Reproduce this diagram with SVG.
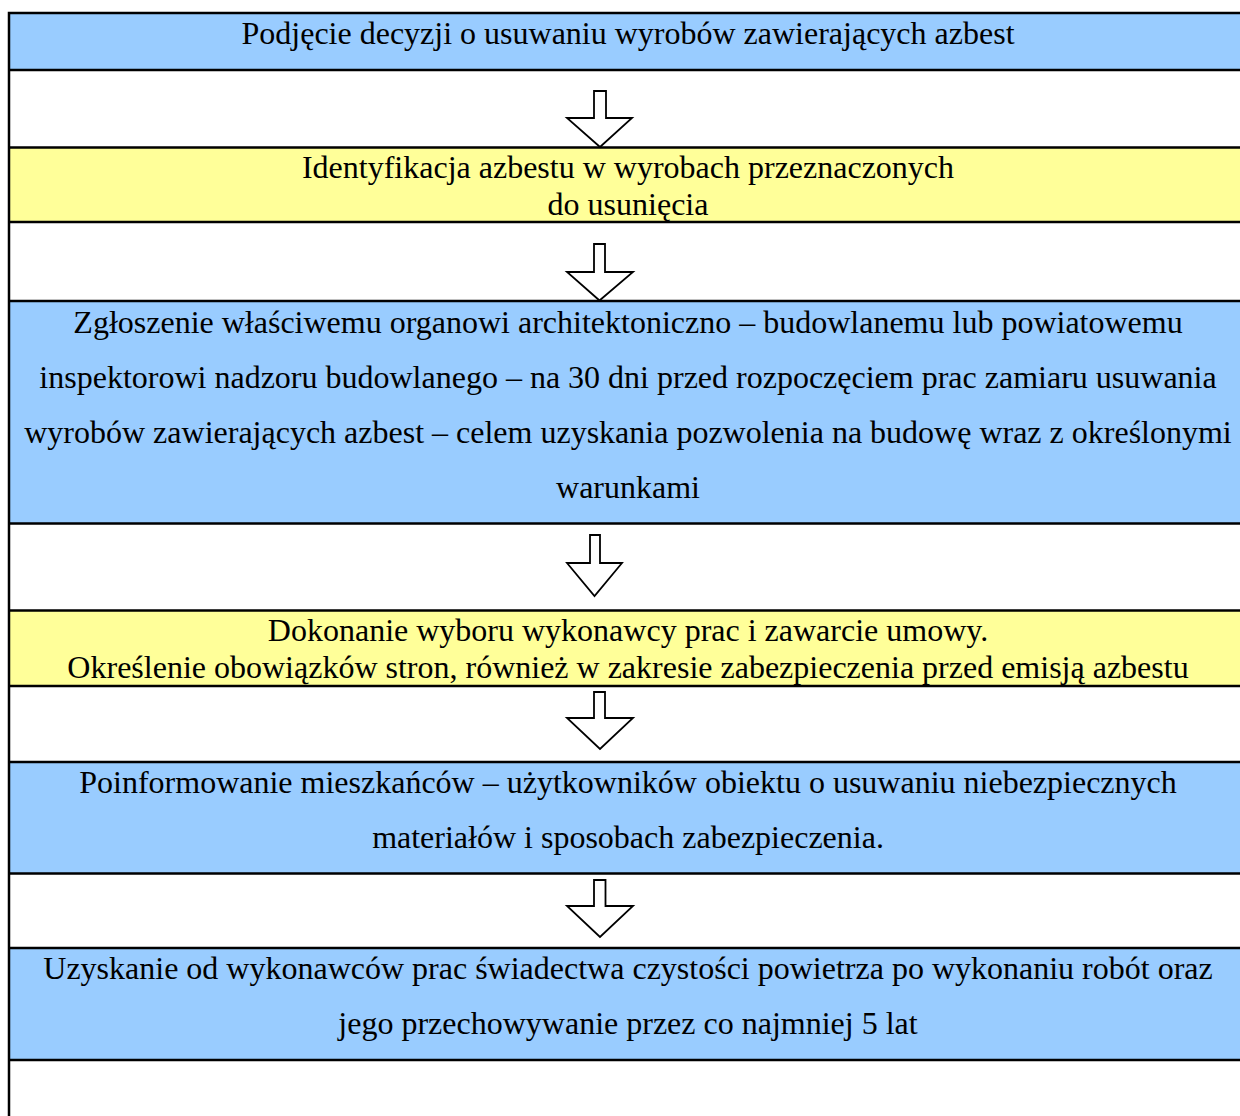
<svg xmlns="http://www.w3.org/2000/svg" width="1240" height="1116" viewBox="0 0 1240 1116">
<style>
.blue{fill:#99CCFF}
.yellow{fill:#FFFF99}
.ln{stroke:#000;stroke-width:2.5;fill:none}
.t{font-family:"Liberation Serif","Times New Roman",serif;font-size:32px;fill:#000;text-anchor:middle}
.arr{fill:#fff;stroke:#000;stroke-width:1.8;stroke-linejoin:miter}
</style>
<rect width="1240" height="1116" fill="#fff"/>
<g id="n1"><rect class="blue" x="9" y="13" width="1231" height="57"/><text class="t" x="628" y="44">Podjęcie decyzji o usuwaniu wyrobów zawierających azbest</text></g>
<g id="n2"><rect class="yellow" x="9" y="147.5" width="1231" height="74.5"/><text class="t" x="628" y="178">Identyfikacja azbestu w wyrobach przeznaczonych</text><text class="t" x="628" y="215">do usunięcia</text></g>
<g id="n3"><rect class="blue" x="9" y="301" width="1231" height="222.5"/><text class="t" x="628" y="333">Zgłoszenie właściwemu organowi architektoniczno – budowlanemu lub powiatowemu</text><text class="t" x="628" y="388">inspektorowi nadzoru budowlanego – na 30 dni przed rozpoczęciem prac zamiaru usuwania</text><text class="t" x="628" y="443">wyrobów zawierających azbest – celem uzyskania pozwolenia na budowę wraz z określonymi</text><text class="t" x="628" y="498">warunkami</text></g>
<g id="n4"><rect class="yellow" x="9" y="610.5" width="1231" height="75.5"/><text class="t" x="628" y="641">Dokonanie wyboru wykonawcy prac i zawarcie umowy.</text><text class="t" x="628" y="678">Określenie obowiązków stron, również w zakresie zabezpieczenia przed emisją azbestu</text></g>
<g id="n5"><rect class="blue" x="9" y="762" width="1231" height="111.5"/><text class="t" x="628" y="793">Poinformowanie mieszkańców – użytkowników obiektu o usuwaniu niebezpiecznych</text><text class="t" x="628" y="848">materiałów i sposobach zabezpieczenia.</text></g>
<g id="n6"><rect class="blue" x="9" y="948" width="1231" height="112"/><text class="t" x="628" y="979">Uzyskanie od wykonawców prac świadectwa czystości powietrza po wykonaniu robót oraz</text><text class="t" x="628" y="1034">jego przechowywanie przez co najmniej 5 lat</text></g>
<g id="grid">
<path class="ln" d="M9 11.75V1116M9 13H1240M9 70H1240M9 147.5H1240M9 222H1240M9 301H1240M9 523.5H1240M9 610.5H1240M9 686H1240M9 762H1240M9 873.5H1240M9 948H1240M9 1060H1240"/>
</g>
<g id="connectors">
<path class="arr" d="M594 91H606V118H632L600 147L567 118H594Z"/>
<path class="arr" d="M594 244H605V272H633L599.5 300.5L567 272H594Z"/>
<path class="arr" d="M590 535H600V563H622L594.5 596L567 563H590Z"/>
<path class="arr" d="M594 692H605V718H633L600 749L567 718H594Z"/>
<path class="arr" d="M594 880H605.5V906H633L600 937L567 906H594Z"/>
</g>
</svg>
